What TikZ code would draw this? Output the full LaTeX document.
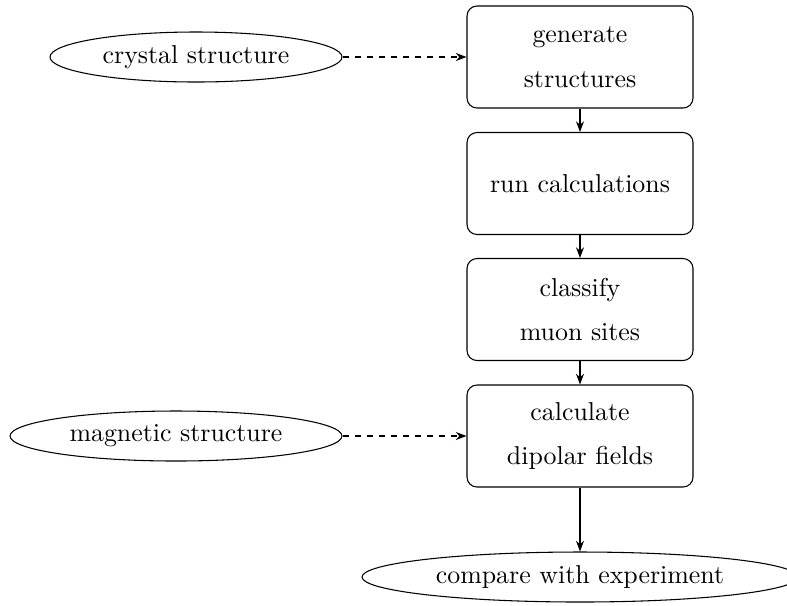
\documentclass[tikz,border=0pt]{standalone}
\usetikzlibrary{shapes.geometric,arrows.meta}
\begin{document}
\begin{tikzpicture}[x=0.375pt,y=-0.375pt,
  every node/.style={font=\fontsize{9.7}{11.64}\selectfont},
  stepbox/.style={draw,rounded corners=3.75pt,minimum width=84.75pt,minimum height=38.25pt,align=center,inner sep=0pt},
  datum/.style={draw,ellipse,minimum height=18.75pt,inner sep=0pt},
  flow/.style={-{Stealth[length=4pt,width=3pt]}},
  feed/.style={flow,dash pattern=on 2.6pt off 1.9pt}]
\useasboundingbox (0,0) rectangle (787,605);
\node[stepbox] (gen) at (580,57) {generate\\[5.2pt]structures};
\node[stepbox] (run) at (580,183.5) {run calculations};
\node[stepbox] (cls) at (580,309.5) {classify\\[5.2pt]muon sites};
\node[stepbox] (dip) at (580,436) {calculate\\[5.2pt]dipolar fields};
\node[datum,minimum width=109.5pt] (cry) at (196,57) {crystal structure};
\node[datum,minimum width=124.5pt] (mag) at (176,436) {magnetic structure};
\node[datum,minimum width=163.5pt] (cmp) at (580,577) {compare with experiment};
\draw[feed] (cry) -- (gen);
\draw[feed] (mag) -- (dip);
\draw[flow] (gen) -- (run);
\draw[flow] (run) -- (cls);
\draw[flow] (cls) -- (dip);
\draw[flow] (dip) -- (cmp);
\end{tikzpicture}
\end{document}
